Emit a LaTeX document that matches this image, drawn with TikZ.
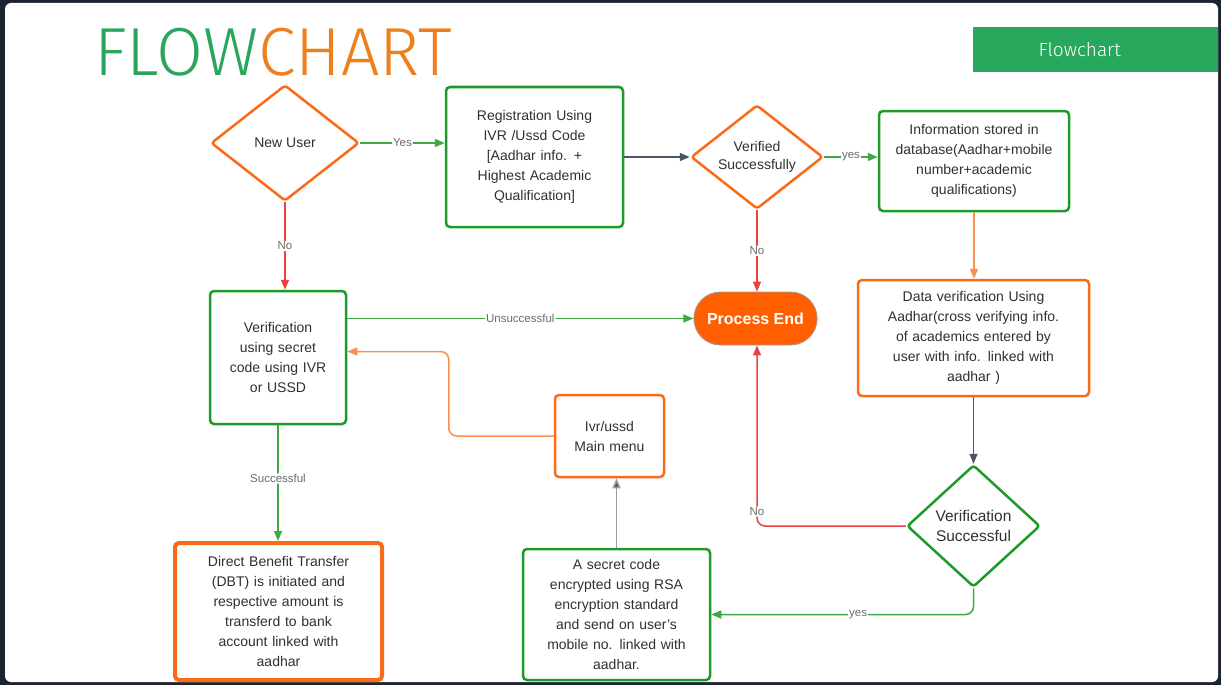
\documentclass[tikz,border=0pt]{standalone}
\usepackage{fontspec}
\setmainfont{Liberation Sans}
\newfontfamily\titlefont{Fira Sans Light}
\usepackage{tikz}
\usetikzlibrary{positioning}
\usetikzlibrary{arrows.meta}
\usetikzlibrary{shapes}
\usetikzlibrary{shapes.geometric}
\usetikzlibrary{calc}
\definecolor{bgDark}{HTML}{1C2331}
\definecolor{orgB}{HTML}{FB6A17}
\definecolor{grnB}{HTML}{1E9A2A}
\definecolor{bnrG}{HTML}{27A85C}
\definecolor{ttlG}{HTML}{2AA55E}
\definecolor{ttlO}{HTML}{EE7F1B}
\definecolor{redL}{HTML}{EE4040}
\definecolor{orgL}{HTML}{F9904E}
\definecolor{grnL}{HTML}{3DAA45}
\definecolor{gryD}{HTML}{4B5563}
\definecolor{gryL}{HTML}{9A9EA5}
\definecolor{endO}{HTML}{FF5F00}
\definecolor{txt}{HTML}{303030}
\definecolor{lblc}{HTML}{6B6B6B}
\tikzstyle{boxG} = [draw=grnB, line width=2.5pt, rounded corners=4pt, align=center, text=txt,
    font=\fontsize{14}{20}\selectfont, inner sep=2pt]
\tikzstyle{boxO} = [boxG, draw=orgB]
\tikzstyle{decO} = [diamond, draw=orgB, line width=2.5pt, rounded corners=3pt, align=center, text=txt,
    font=\fontsize{14}{18}\selectfont, inner sep=0pt]
\tikzstyle{decG} = [decO, draw=grnB]
\tikzstyle{lnk}  = [line width=1.5pt, rounded corners=8pt, -{Triangle[length=10pt,width=8pt]}]
\tikzstyle{lbl}  = [fill=white, inner sep=1pt, text=lblc, font=\fontsize{11.5}{12}\selectfont]

\begin{document}
\begin{tikzpicture}[x=1pt,y=-1pt]
                    \useasboundingbox (0,0) rectangle (1221,685);
                    \fill[bgDark] (0,0) rectangle (1221,685);
                    \fill[white,rounded corners=6pt] (5,3) rectangle (1218,682);
                    \node at (94,75)     [anchor=base west,inner sep=0pt] (nTitle) {\titlefont\fontsize{68}{68}\selectfont\color{ttlG}FLOW\color{ttlO}CHART};
                    \node at (973,27)    [anchor=north west,fill=bnrG,minimum width=245pt,minimum height=45pt] (nBanner) {};
                    \node at ([xshift=-16pt]nBanner.center) [text=white,font=\titlefont\fontsize{19}{19}\selectfont] (nBannerTxt) {Flowchart};
                    \node at (285,143)   [decO,aspect=1.27,minimum width=148pt,minimum height=116pt] (nNew)  {New User};
                    \node at (534.5,157) [boxG,minimum width=177pt,minimum height=140pt,text width=170pt] (nReg)  {Registration Using\\IVR /Ussd Code\\{[}Aadhar info. +\\Highest Academic\\Qualification{]}};
                    \node at (757,157)   [decO,aspect=1.27,minimum width=132pt,minimum height=104pt] (nVer)  {Verified\\Successfully};
                    \node at (974,161)   [boxG,minimum width=190pt,minimum height=100pt,text width=186pt] (nInfo) {Information stored in\\database(Aadhar+mobile\\number+academic\\qualifications)};
                    \node at (278,357.5) [boxG,minimum width=136pt,minimum height=133pt,text width=130pt] (nSec)  {Verification\\using secret\\code using IVR\\or USSD};
                    \node at (755.5,318.5) [rounded rectangle,draw=gryL,line width=0.8pt,fill=endO,minimum width=130pt,minimum height=53pt,text=white,font=\bfseries\fontsize{16}{18}\selectfont] (nEnd) {Process End};
                    \node at (973.5,338) [boxO,minimum width=231pt,minimum height=116pt,text width=225pt] (nData) {Data verification Using\\Aadhar(cross verifying info.\\of academics entered by\\user with info. linked with\\aadhar )};
                    \node at (609.5,436) [boxO,minimum width=109pt,minimum height=82pt,text width=104pt] (nMenu) {Ivr/ussd\\Main menu};
                    \node at (973.5,526) [decG,aspect=1.09,minimum width=133pt,minimum height=122pt,font=\fontsize{15.5}{20}\selectfont] (nVS) {Verification\\Successful};
                    \node at (278.5,611.5) [boxO,line width=4pt,minimum width=207pt,minimum height=137pt,text width=200pt] (nDBT) {Direct Benefit Transfer\\(DBT) is initiated and\\respective amount is\\transferd to bank\\account linked with\\aadhar};
                    \node at (616.5,614.5) [boxG,minimum width=187pt,minimum height=131pt,text width=180pt] (nCode) {A secret code\\encrypted using RSA\\encryption standard\\and send on user's\\mobile no. linked with\\aadhar.};
                    \draw[lnk,grnL] (nNew.east)    -- node[lbl] {Yes} (nNew.east -| nReg.west);
                    \draw[lnk,gryD] (nReg.east)    -- (nVer.west);
                    \draw[lnk,grnL] (nVer.east)    -- node[lbl] {yes} (nVer.east -| nInfo.west);
                    \draw[lnk,redL] (nVer.south)   -- node[lbl] {No} (nVer.south |- nEnd.north);
                    \draw[lnk,redL] (nNew.south)   -- node[lbl] {No} (nNew.south |- nSec.north);
                    \draw[lnk,orgL] (nInfo.south)  -- (nInfo.south |- nData.north);
                    \draw[lnk,grnL] (nSec.east |- nEnd.west) -- node[lbl] {Unsuccessful} (nEnd.west);
                    \draw[lnk,orgL] (nMenu.west)   -- ++(-105,0) |- ([yshift=6pt]nSec.east);
                    \draw[lnk,grnL] (nSec.south)   -- node[lbl,pos=0.46] {Successful} (nSec.south |- nDBT.north);
                    \draw[lnk,gryD] (nData.south)  -- (nVS.north);
                    \draw[lnk,redL] (nVS.west)     -| node[lbl,pos=0.54] {No} (nVer.south |- nEnd.south);
                    \draw[lnk,grnL] (nVS.south)    |- node[lbl,pos=0.72] {yes} (nCode.east);
                    \draw[lnk,gryL,-{Triangle[length=10pt,width=8pt,fill=gryD]}] (nCode.north) -- (nCode.north |- nMenu.south);
\end{tikzpicture}
\end{document}
